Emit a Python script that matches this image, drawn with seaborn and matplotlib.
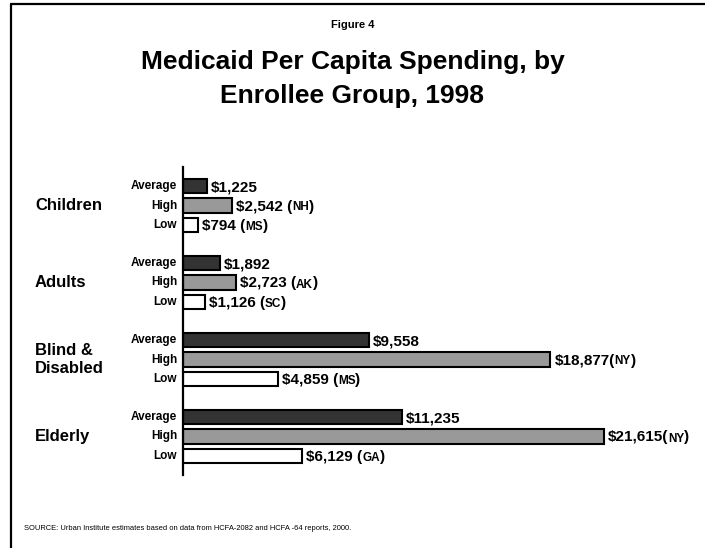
import pandas as pd
import matplotlib.pyplot as plt
import seaborn as sns
from matplotlib.lines import Line2D

# Data
groups = ['Children', 'Adults', 'Blind &\nDisabled', 'Elderly']
levels = ['Average', 'High', 'Low']
average = [1225, 1892, 9558, 11235]
high = [2542, 2723, 18877, 21615]
low = [794, 1126, 4859, 6129]
high_state = ['NH', 'AK', 'NY', 'NY']
low_state = ['MS', 'SC', 'MS', 'GA']

colors = {'Average': '#333333', 'High': '#999999', 'Low': '#ffffff'}

rows = []
for i, g in enumerate(groups):
    rows.append((g, 'Average', average[i]))
    rows.append((g, 'High', high[i]))
    rows.append((g, 'Low', low[i]))
df = pd.DataFrame(rows, columns=['group', 'level', 'value'])

sns.set_style('white')
plt.rcParams['font.family'] = ['Liberation Sans', 'DejaVu Sans']
plt.rcParams['text.color'] = 'black'

fig = plt.figure(figsize=(7.05, 5.48), dpi=100)
ax = fig.add_axes([183 / 705, 1 - 475 / 548, 506 / 705, 308 / 548])

sns.barplot(data=df, y='group', x='value', hue='level', hue_order=levels,
            order=groups, orient='h', palette=colors, edgecolor='black',
            linewidth=1.5, width=0.75, gap=0.25, errorbar=None, legend=False, ax=ax)

ax.set_xlim(0, 26000)
ax.set_ylim(3.5, -0.5)
ax.set_xlabel('')
ax.set_ylabel('')
ax.set_xticks([])
ax.set_yticks([])
for s in ['top', 'right', 'bottom']:
    ax.spines[s].set_visible(False)
ax.spines['left'].set_color('black')
ax.spines['left'].set_linewidth(1.6)


def label_parts(x, y, parts):
    """Chain text pieces of different sizes after the end of a bar."""
    prev = ax.annotate(parts[0][0], xy=(x, y), xytext=(4, -1), textcoords='offset pixels',
                       ha='left', va='center', fontsize=parts[0][1], fontweight='bold')
    for txt, size in parts[1:]:
        prev = ax.annotate(txt, xy=(1, 0), xycoords=prev, ha='left', va='bottom',
                           fontsize=size, fontweight='bold')


for j, (lvl, cont) in enumerate(zip(levels, ax.containers)):
    for i, bar in enumerate(cont):
        yc = bar.get_y() + bar.get_height() / 2
        w = bar.get_width()
        ax.annotate(lvl, xy=(0, yc), xycoords=('axes fraction', 'data'),
                    xytext=(-6, 0), textcoords='offset pixels', ha='right', va='center',
                    fontsize=8.5, fontweight='bold')
        val = f'${w:,.0f}'
        if lvl == 'Average':
            label_parts(w, yc, [(val, 11)])
        elif lvl == 'High':
            sep = '' if w > 10000 else ' '
            label_parts(w, yc, [(val + sep + '(', 11), (high_state[i], 8.5), (')', 11)])
        else:
            label_parts(w, yc, [(val + ' (', 11), (low_state[i], 8.5), (')', 11)])

for i, g in enumerate(groups):
    ax.annotate(g, xy=(35 / 705, i), xycoords=('figure fraction', 'data'),
                ha='left', va='center', fontsize=12, fontweight='bold', linespacing=1.25)

fig.text(0.5, 1 - 25 / 548, 'Figure 4', ha='center', va='center', fontsize=8, fontweight='bold')
fig.text(0.5, 1 - 79 / 548, 'Medicaid Per Capita Spending, by\nEnrollee Group, 1998',
         ha='center', va='center', fontsize=19, fontweight='bold', linespacing=1.55)
fig.text(24 / 705, 1 - 528 / 548,
         'SOURCE: Urban Institute estimates based on data from HCFA-2082 and HCFA -64 reports, 2000.',
         ha='left', va='center', fontsize=5.4)

# frame lines on the left and top
fig.add_artist(Line2D([11 / 705, 11 / 705], [0, 1 - 4 / 548], color='black', linewidth=1.6))
fig.add_artist(Line2D([11 / 705, 1], [1 - 4 / 548, 1 - 4 / 548], color='black', linewidth=1.6))

fig.savefig('out.png', dpi=100, facecolor='white')
